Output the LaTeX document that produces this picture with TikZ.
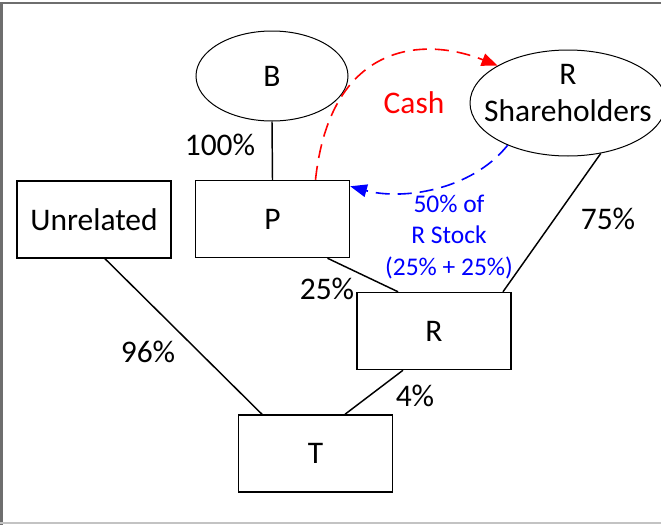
\documentclass[tikz,border=0pt]{standalone}
\usepackage{fontspec}
\setmainfont{Carlito}
\usetikzlibrary{calc,arrows.meta,shapes.geometric}
\begin{document}
\begin{tikzpicture}[x=0.75pt,y=-0.75pt,
  every node/.style={font=\fontsize{23.6}{28}\selectfont},
  entbox/.style={draw, line width=1.1pt, rectangle, inner sep=0pt, minimum width=115.5pt, minimum height=57.75pt},
  entell/.style={draw, line width=0.75pt, ellipse, inner sep=0pt},
  link/.style={line width=1.1pt},
  pct/.style={inner sep=0pt},
  flowdash/.style={line width=1.2pt, dash pattern=on 10.5pt off 6pt},
  bluetxt/.style={inner sep=0pt, text=blue, align=center, font=\fontsize{19.1}{23.6}\selectfont}
]
\clip (0,0) rectangle (661,525);
\fill[white] (0,0) rectangle (661,525);
% frame
\draw[line width=1.5pt, color={rgb,255:red,110;green,110;blue,110}] (1.5,525) -- (1.5,3) -- (661,3);
\draw[line width=1.1pt, color={rgb,255:red,195;green,195;blue,195}] (0,523) -- (661,523);

% nodes
\node[entell, minimum width=114pt, minimum height=67.5pt] (B) at (272,76) {B};
\node[entell, minimum width=147pt, minimum height=79.5pt] (rsh) at (568,103) {};
\node[inner sep=0pt, align=center, font=\fontsize{23.6}{27.5}\selectfont] (rshtxt) at (568,93) {R\\Shareholders};
\node[entbox] (U) at (94,219.5) {Unrelated};
\node[entbox] (P) at (272.5,219) {P};
\node[entbox] (R) at (434,331) {R};
\node[entbox] (T) at (315.5,453.5) {T};

% ownership links
\draw[link] (B.south) -- (P.north);
\draw[link] ($(P.south)+(55,0)$) -- ($(R.north)+(-36,0)$);
\draw[link] (rsh.-57) -- ($(R.north)+(69,0)$);
\draw[link] ($(U.south)+(11,0)$) -- ($(T.north)+(-53.5,0)$);
\draw[link] ($(R.south)+(-31,0)$) -- ($(T.north)+(29.5,0)$);

% flows
\draw[flowdash, red, -{Triangle[length=12pt,width=9.5pt]}]
  ($(P.north)+(43,0)$) .. controls (330,45) and (420,35) .. (rsh.152);
\draw[flowdash, blue, -{Triangle[length=12.5pt,width=9.5pt]}]
  (rsh.215.5) .. controls (470,192) and (400,200) .. ($(P.north east)+(0,6.5)$);

% labels
\node[pct] (l100) at (220,145) {100\%};
\node[pct, text=red] (lcash) at (414,103) {Cash};
\node[bluetxt] (lstock) at (449,237) {50\% of\\R Stock\\(25\% + 25\%)};
\node[pct] (l75) at (608,219) {75\%};
\node[pct] (l25) at (327,289) {25\%};
\node[pct] (l96) at (148,352) {96\%};
\node[pct] (l4) at (415,396) {4\%};
\end{tikzpicture}
\end{document}
